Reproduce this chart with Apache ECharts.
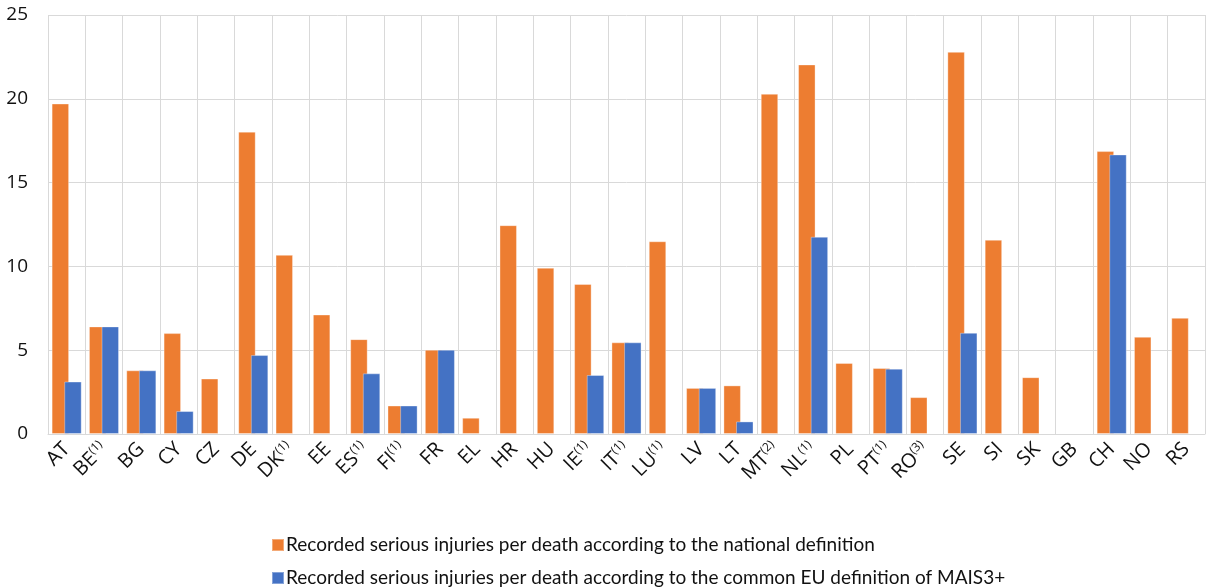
<!DOCTYPE html>
<html>
<head>
<meta charset="utf-8">
<script src="https://cdn.jsdelivr.net/npm/echarts@6/dist/echarts.min.js"></script>
<style>
  html, body { margin: 0; padding: 0; background: #fff; }
  #chart { width: 1207px; height: 588px; }
</style>
</head>
<body>
<div id="chart"></div>
<script>
// Country codes and the footnote mark shown after each code
const countries = ['AT','BE','BG','CY','CZ','DE','DK','EE','ES','FI','FR','EL','HR','HU','IE','IT','LU','LV','LT','MT','NL','PL','PT','RO','SE','SI','SK','GB','CH','NO','RS'];
const footnotes = ['','(1)','','','','','(1)','','(1)','(1)','','','','','(1)','(1)','(1)','','','(2)','(1)','','(1)','(3)','','','','','','',''];

// Recorded serious injuries per death
const nationalDef = [19.72, 6.42, 3.8, 6.02, 3.31, 18.04, 10.69, 7.13, 5.66, 1.70, 5.03, 0.97, 12.46, 9.92, 8.95, 5.47, 11.5, 2.75, 2.9, 20.3, 22.05, 4.24, 3.94, 2.2, 22.8, 11.59, 3.39, null, 16.88, 5.8, 6.93];
const maisDef = [3.13, 6.42, 3.8, 1.37, null, 4.71, null, null, 3.62, 1.70, 5.03, null, null, null, 3.52, 5.47, null, 2.75, 0.75, null, 11.77, null, 3.9, null, 6.04, null, null, null, 16.68, null, null];

const seriesNames = [
  'Recorded serious injuries per death according to the national definition',
  'Recorded serious injuries per death according to the common EU definition of MAIS3+'
];
const yTicks = { min: 0, max: 25, interval: 5 };

const labelFont = '"Open Sans", "Noto Sans", sans-serif';
const categoryData = countries.map((c, i) => footnotes[i] ? c + '|' + footnotes[i] : c);

const chart = echarts.init(document.getElementById('chart'), null, { renderer: 'canvas' });
chart.setOption({
  animation: false,
  grid: { left: 48, right: 2, top: 15, bottom: 154, containLabel: false },
  legend: {
    orient: 'vertical',
    left: 266,
    top: 530,
    height: 60,
    icon: 'rect',
    itemWidth: 12,
    itemHeight: 12,
    itemGap: 13,
    textStyle: { fontFamily: 'Lato, "Noto Sans", sans-serif', fontSize: 19, lineHeight: 20, color: '#111', padding: [0, 0, 0, -3] },
    data: seriesNames
  },
  xAxis: {
    type: 'category',
    data: categoryData,
    boundaryGap: true,
    axisLine: { show: true, lineStyle: { color: '#d9d9d9', width: 1 } },
    axisTick: { show: false },
    splitLine: { show: true, lineStyle: { color: '#d9d9d9', width: 1 } },
    axisLabel: {
      interval: 0,
      rotate: 45,
      margin: 12,
      formatter: function (v) {
        const parts = v.split('|');
        return parts.length > 1 ? '{c|' + parts[0] + '}{s|' + parts[1] + '}' : '{c|' + parts[0] + '}';
      },
      rich: {
        c: { fontFamily: labelFont, fontSize: 20, color: '#111', lineHeight: 22 },
        s: { fontFamily: labelFont, fontSize: 12, color: '#111', verticalAlign: 'top', lineHeight: 22, padding: [0, 0, 10, 0] }
      }
    }
  },
  yAxis: {
    type: 'value',
    min: yTicks.min,
    max: yTicks.max,
    interval: yTicks.interval,
    axisLine: { show: false },
    axisTick: { show: false },
    splitLine: { show: true, lineStyle: { color: '#d9d9d9', width: 1 } },
    axisLabel: { fontFamily: labelFont, fontSize: 19, color: '#111', margin: 20 }
  },
  series: [
    {
      name: seriesNames[0],
      type: 'bar',
      data: nationalDef,
      barWidth: 17.5,
      barGap: '-28%',
      itemStyle: { color: '#ED7D31', borderColor: 'rgba(255,255,255,0.35)', borderWidth: 1 }
    },
    {
      name: seriesNames[1],
      type: 'bar',
      data: maisDef,
      barWidth: 17.5,
      barGap: '-28%',
      itemStyle: { color: '#4472C4', borderColor: 'rgba(255,255,255,0.35)', borderWidth: 1 }
    }
  ]
});
</script>
</body>
</html>
